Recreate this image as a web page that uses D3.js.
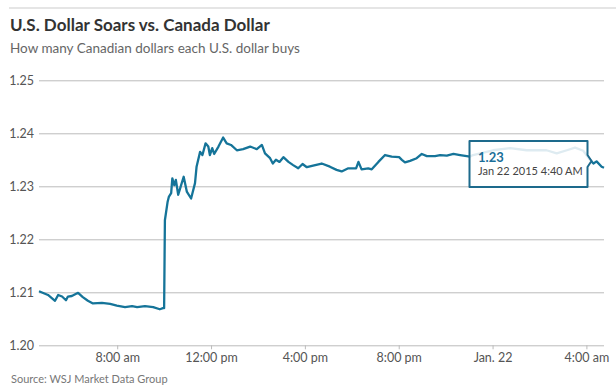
<!DOCTYPE html>
<html>
<head>
<meta charset="utf-8">
<script src="https://cdn.jsdelivr.net/npm/d3@7"></script>
<style>
  body { margin: 0; background: #fff; }
  svg { display: block; font-family: Lato, "Open Sans", sans-serif; }
</style>
</head>
<body>
<div id="chart"></div>
<script>
// USD/CAD, Jan 21 2015 4:40 am to Jan 22 2015 4:45 am
const times = [
  '2015-01-21 04:40', '2015-01-21 05:03', '2015-01-21 05:21', '2015-01-21 05:29', '2015-01-21 05:39',
  '2015-01-21 05:49', '2015-01-21 05:54', '2015-01-21 06:04', '2015-01-21 06:20', '2015-01-21 06:32',
  '2015-01-21 06:45', '2015-01-21 06:58', '2015-01-21 07:21', '2015-01-21 07:42', '2015-01-21 07:59',
  '2015-01-21 08:20', '2015-01-21 08:38', '2015-01-21 08:51', '2015-01-21 09:11', '2015-01-21 09:32',
  '2015-01-21 09:49', '2015-01-21 09:57', '2015-01-21 10:00', '2015-01-21 10:02', '2015-01-21 10:09',
  '2015-01-21 10:12', '2015-01-21 10:18', '2015-01-21 10:21', '2015-01-21 10:26', '2015-01-21 10:30',
  '2015-01-21 10:36', '2015-01-21 10:41', '2015-01-21 10:50', '2015-01-21 10:58', '2015-01-21 11:09',
  '2015-01-21 11:19', '2015-01-21 11:23', '2015-01-21 11:32', '2015-01-21 11:38', '2015-01-21 11:46',
  '2015-01-21 11:53', '2015-01-21 11:57', '2015-01-21 12:03', '2015-01-21 12:08', '2015-01-21 12:19',
  '2015-01-21 12:31', '2015-01-21 12:40', '2015-01-21 12:51', '2015-01-21 13:06', '2015-01-21 13:22',
  '2015-01-21 13:40', '2015-01-21 13:57', '2015-01-21 14:10', '2015-01-21 14:18', '2015-01-21 14:31',
  '2015-01-21 14:38', '2015-01-21 14:46', '2015-01-21 14:55', '2015-01-21 15:05', '2015-01-21 15:18',
  '2015-01-21 15:30', '2015-01-21 15:43', '2015-01-21 15:54', '2015-01-21 16:05', '2015-01-21 16:21',
  '2015-01-21 16:43', '2015-01-21 17:04', '2015-01-21 17:21', '2015-01-21 17:34', '2015-01-21 17:51',
  '2015-01-21 18:11', '2015-01-21 18:17', '2015-01-21 18:25', '2015-01-21 18:42', '2015-01-21 18:51',
  '2015-01-21 19:08', '2015-01-21 19:25', '2015-01-21 19:42', '2015-01-21 20:01', '2015-01-21 20:08',
  '2015-01-21 20:16', '2015-01-21 20:29', '2015-01-21 20:46', '2015-01-21 20:59', '2015-01-21 21:12',
  '2015-01-21 21:33', '2015-01-21 21:46', '2015-01-21 22:03', '2015-01-21 22:20', '2015-01-21 22:37',
  '2015-01-21 22:54', '2015-01-21 23:02', '2015-01-21 23:10', '2015-01-22 00:01', '2015-01-22 00:45',
  '2015-01-22 01:27', '2015-01-22 02:18', '2015-01-22 02:44', '2015-01-22 03:10', '2015-01-22 03:31',
  '2015-01-22 03:52', '2015-01-22 04:09', '2015-01-22 04:18', '2015-01-22 04:26', '2015-01-22 04:39',
  '2015-01-22 04:45'
];
const rates = [
  1.2102, 1.2095, 1.2084, 1.2095, 1.2092,
  1.2085, 1.2092, 1.2093, 1.2099, 1.2091,
  1.2084, 1.2079, 1.2080, 1.2078, 1.2075,
  1.2072, 1.2074, 1.2072, 1.2074, 1.2072,
  1.2068, 1.2070, 1.2070, 1.2236, 1.2271,
  1.2280, 1.2287, 1.2315, 1.2302, 1.2312,
  1.2284, 1.2296, 1.2318, 1.2290, 1.2277,
  1.2306, 1.2337, 1.2365, 1.2359, 1.2381,
  1.2375, 1.2359, 1.2372, 1.2361, 1.2375,
  1.2392, 1.2381, 1.2378, 1.2368, 1.2370,
  1.2375, 1.2370, 1.2378, 1.2362, 1.2353,
  1.2343, 1.2350, 1.2346, 1.2355, 1.2346,
  1.2340, 1.2334, 1.2342, 1.2336, 1.2339,
  1.2343, 1.2337, 1.2331, 1.2328, 1.2334,
  1.2334, 1.2346, 1.2332, 1.2334, 1.2332,
  1.2346, 1.2359, 1.2356, 1.2355, 1.2350,
  1.2345, 1.2348, 1.2353, 1.2361, 1.2357,
  1.2357, 1.2359, 1.2358, 1.2361, 1.2359,
  1.2357, 1.2356, 1.2359, 1.2368, 1.2372,
  1.2368, 1.2368, 1.2362, 1.2368, 1.2373,
  1.2367, 1.2350, 1.2343, 1.2347, 1.2337,
  1.2335
];
const yTicks = [1.20, 1.21, 1.22, 1.23, 1.24, 1.25];
const xTickTimes = ['2015-01-21 08:00', '2015-01-21 12:00', '2015-01-21 16:00', '2015-01-21 20:00', '2015-01-22 00:00', '2015-01-22 04:00'];
const xTickLabels = ['8:00 am', '12:00 pm', '4:00 pm', '8:00 pm', 'Jan. 22', '4:00 am'];
const tipValue = '1.23';
const tipDate = 'Jan 22 2015 4:40 AM';

const W = 616, H = 389;
const margin = { top: 80, right: 12, bottom: 44, left: 39 };
const parse = d3.timeParse('%Y-%m-%d %H:%M');
const data = times.map((t, i) => ({ t: parse(t), v: rates[i] }));

const svg = d3.select('#chart').append('svg').attr('width', W).attr('height', H);

// header
svg.append('line')
  .attr('x1', 9).attr('x2', W).attr('y1', 8).attr('y2', 8)
  .attr('stroke', '#ddd').attr('stroke-width', 1.5);
svg.append('text')
  .attr('x', 10).attr('y', 31)
  .attr('font-size', 17).attr('font-weight', 700).attr('fill', '#333')
  .text('U.S. Dollar Soars vs. Canada Dollar');
svg.append('text')
  .attr('x', 10).attr('y', 53)
  .attr('font-size', 13.5).attr('fill', '#666')
  .text('How many Canadian dollars each U.S. dollar buys');

const x = d3.scaleTime()
  .domain([parse('2015-01-21 04:40'), parse('2015-01-22 04:45')])
  .range([margin.left, W - margin.right]);
const y = d3.scaleLinear()
  .domain([1.20, 1.25])
  .range([345.3, 80.3]);

// y grid + labels
const yAxis = svg.append('g')
  .attr('transform', `translate(${margin.left},0)`)
  .call(d3.axisLeft(y).tickValues(yTicks).tickFormat(d3.format('.2f'))
    .tickSize(-(W - margin.right - margin.left)).tickPadding(5));
yAxis.select('.domain').remove();
yAxis.selectAll('.tick line').attr('stroke', '#bbb');
yAxis.selectAll('.tick text')
  .attr('font-family', 'Lato, "Open Sans", sans-serif')
  .attr('font-size', 12.5).attr('fill', '#555');

// x ticks + labels
const xAxis = svg.append('g')
  .attr('transform', `translate(0,${y(1.20)})`)
  .call(d3.axisBottom(x).tickValues(xTickTimes.map(parse))
    .tickFormat((d, i) => xTickLabels[i]).tickSize(4).tickPadding(4));
xAxis.select('.domain').remove();
xAxis.selectAll('.tick line').attr('stroke', '#bbb');
xAxis.selectAll('.tick text')
  .attr('font-family', 'Lato, "Open Sans", sans-serif')
  .attr('font-size', 12.5).attr('fill', '#555');

// the series
const line = d3.line().x(d => x(d.t)).y(d => y(d.v));
svg.append('path')
  .datum(data)
  .attr('d', line)
  .attr('fill', 'none')
  .attr('stroke', '#157499')
  .attr('stroke-width', 2.3)
  .attr('stroke-linejoin', 'round');

// tooltip
const bx = 469.5, by = 141, bw = 118, bh = 46;
const tip = svg.append('g');
tip.append('path')
  .attr('d', `M${bx},${by}H${bx + bw}V${by + 14}L${bx + bw + 4},${by + 20}L${bx + bw},${by + 26}V${by + bh}H${bx}Z`)
  .attr('fill', 'rgba(255,255,255,0.86)')
  .attr('stroke', '#1d6a8c').attr('stroke-width', 2)
  .attr('stroke-linejoin', 'round');
tip.append('text')
  .attr('x', bx + 8.5).attr('y', by + 21)
  .attr('font-size', 13).attr('font-weight', 700).attr('fill', '#1b6f99')
  .text(tipValue);
tip.append('text')
  .attr('x', bx + 8.5).attr('y', by + 34)
  .attr('font-size', 11).attr('fill', '#444')
  .text(tipDate);

// source
svg.append('text')
  .attr('x', 11).attr('y', 383)
  .attr('font-size', 11).attr('fill', '#777')
  .text('Source: WSJ Market Data Group');
</script>
</body>
</html>
